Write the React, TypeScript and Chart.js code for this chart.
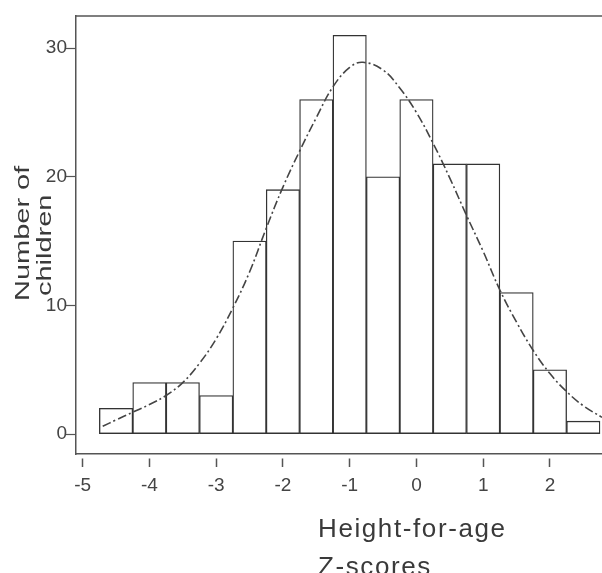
import React, { useEffect, useRef } from 'react';
import { Chart, registerables } from 'chart.js';

Chart.register(...registerables);

// Histogram bins (centre of each 0.5-wide bin) and number of children
const binCenters = [-4.5, -4, -3.5, -3, -2.5, -2, -1.5, -1, -0.5, 0, 0.5, 1, 1.5, 2, 2.5];
const counts = [2, 4, 4, 3, 15, 19, 26, 31, 20, 26, 21, 21, 11, 5, 1];

// Fitted curve
const curveX = [-4.7, -4.5, -4.25, -4, -3.75, -3.5, -3.25, -3, -2.75, -2.5, -2.25, -2, -1.75, -1.5, -1.25, -1, -0.8, -0.5, -0.25, 0, 0.25, 0.5, 0.75, 1, 1.25, 1.5, 1.75, 2, 2.25, 2.5, 2.78];
const curveY = [0.6, 1.1, 1.7, 2.3, 3.0, 4.0, 5.5, 7.4, 9.8, 12.6, 16.0, 19.2, 22.0, 24.6, 27.0, 28.5, 28.9, 28.3, 26.9, 25.0, 22.6, 19.9, 17.0, 14.2, 11.2, 8.7, 6.5, 4.7, 3.3, 2.2, 1.3];

const xTickValues = [-5, -4, -3, -2, -1, 0, 1, 2];
const yTickValues = [0, 10, 20, 30];
const yTitleLines = ['Number of', 'children'];
const xTitleLines = ['Height-for-age', 'Z-scores'];

const AXIS_COLOR = '#555';
const TEXT_COLOR = '#3a3a3a';

const decorPlugin = {
  id: 'decor',
  afterDraw(chart: any) {
    const { ctx, chartArea } = chart;
    ctx.save();
    // top frame line
    ctx.strokeStyle = AXIS_COLOR;
    ctx.lineWidth = 1.5;
    ctx.beginPath();
    ctx.moveTo(chartArea.left, chartArea.top);
    ctx.lineTo(chartArea.right, chartArea.top);
    ctx.stroke();

    ctx.fillStyle = TEXT_COLOR;
    // y title (rotated, two lines, stretched along its length like the scan)
    ctx.font = '21px "Liberation Sans", Arial, sans-serif';
    ctx.textAlign = 'left';
    ctx.textBaseline = 'alphabetic';
    const yBase = [29, 51];
    const yStart = [301, 296];
    yTitleLines.forEach((t, i) => {
      ctx.save();
      ctx.translate(yBase[i], yStart[i]);
      ctx.rotate(-Math.PI / 2);
      ctx.scale(1.38, 1);
      ctx.fillText(t, 0, 0);
      ctx.restore();
    });
    // x title (left aligned, two lines)
    ctx.font = '26px "Liberation Sans", Arial, sans-serif';
    (ctx as any).letterSpacing = '1.6px';
    const xBase = [537, 575];
    xTitleLines.forEach((t, i) => {
      ctx.fillText(t, 318, xBase[i]);
    });
    ctx.restore();
  },
};

export default function App() {
  const ref = useRef<HTMLCanvasElement | null>(null);

  useEffect(() => {
    if (!ref.current) return;
    const barData = binCenters.map((x, i) => ({ x, y: counts[i] }));
    const lineData = curveX.map((x, i) => ({ x, y: curveY[i] }));
    const chart = new Chart(ref.current, {
      type: 'bar',
      data: {
        datasets: [
          {
            type: 'line',
            data: lineData,
            borderColor: '#444',
            borderWidth: 1.6,
            borderDash: [9, 3, 2, 3],
            pointRadius: 0,
            tension: 0.4,
            fill: false,
            order: 0,
          } as any,
          {
            type: 'bar',
            data: barData,
            backgroundColor: '#ffffff',
            borderColor: '#333',
            borderWidth: 1.3,
            borderSkipped: false,
            barPercentage: 1,
            categoryPercentage: 1,
            order: 1,
          } as any,
        ],
      },
      options: {
        responsive: false,
        animation: false,
        devicePixelRatio: 1,
        layout: { padding: { top: 16, right: 0, left: 0, bottom: 0 } },
        plugins: { legend: { display: false }, tooltip: { enabled: false } },
        scales: {
          x: {
            type: 'linear',
            offset: false,
            min: -5.1,
            max: 2.78,
            afterBuildTicks: (s: any) => {
              s.ticks = xTickValues.map((v) => ({ value: v }));
            },
            afterFit: (s: any) => {
              s.height = 119;
            },
            grid: {
              offset: false,
              drawOnChartArea: false,
              drawTicks: true,
              tickLength: 13,
              tickColor: AXIS_COLOR,
              tickWidth: 1.5,
              tickBorderDash: [0, 4, 9, 100],
            } as any,
            border: { display: true, color: AXIS_COLOR, width: 1.5 },
            ticks: {
              color: '#444',
              padding: 7,
              font: { family: '"Liberation Sans", Arial, sans-serif', size: 19 },
              maxRotation: 0,
              autoSkip: false,
            },
          },
          y: {
            type: 'linear',
            min: -1.55,
            max: 32.5,
            afterBuildTicks: (s: any) => {
              s.ticks = yTickValues.map((v) => ({ value: v }));
            },
            afterFit: (s: any) => {
              s.width = 76;
            },
            grid: {
              drawOnChartArea: false,
              drawTicks: true,
              tickLength: 10,
              tickColor: AXIS_COLOR,
              tickWidth: 1.2,
            },
            border: { display: true, color: AXIS_COLOR, width: 1.5 },
            ticks: {
              color: '#444',
              padding: -1,
              font: { family: '"Liberation Sans", Arial, sans-serif', size: 19 },
            },
          },
        },
      },
      plugins: [decorPlugin],
    });
    return () => chart.destroy();
  }, []);

  return (
    <div style={{ position: 'absolute', left: 0, top: 0, width: 602, height: 573, background: '#fff' }}>
      <canvas ref={ref} width={602} height={573} style={{ width: 602, height: 573, display: 'block' }} />
    </div>
  );
}
